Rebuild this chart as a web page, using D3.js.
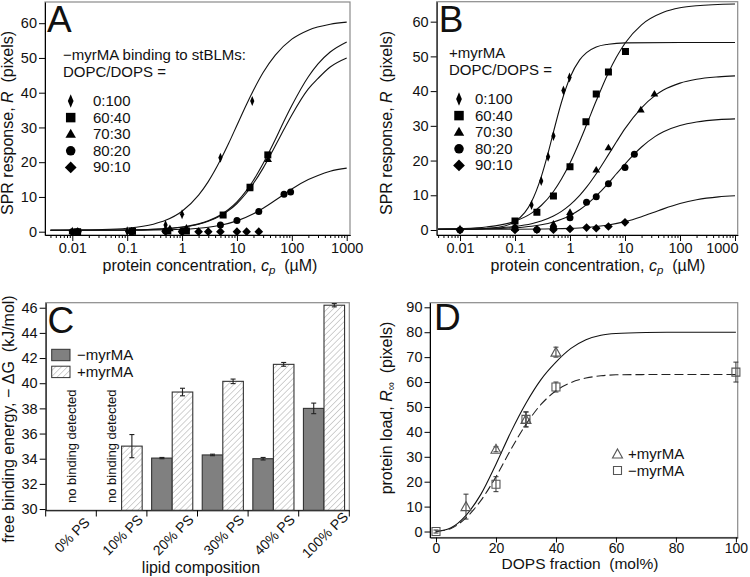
<!DOCTYPE html>
<html><head><meta charset="utf-8">
<script src="https://cdn.jsdelivr.net/npm/d3@7"></script>
<style>body{margin:0;background:#fff} svg{display:block} text{font-family:"Liberation Sans",Arial,Helvetica,sans-serif;fill:#111}</style>
</head><body><svg id="chart" width="750" height="577"></svg>
<script>
// ---------------- DATA ----------------
// Panel A (-myrMA), [concentration µM, response px]
const dataA_0_100 = [[0.01,0],[0.1,0.1],[0.5,1.9],[1,5.0],[5,21.3],[19,37.6]];
const dataA_60_40 = [[0.0125,0],[0.125,0.1],[0.55,0.2],[1.2,0.2],[5.6,4.8],[17.3,12.8],[36.5,22.1]];
const dataA_70_30 = [[0.01,0],[0.12,0.2],[0.6,0.9],[1.2,1.1],[17,12.4],[37,20.8]];
const dataA_80_20 = [[0.01,0],[0.12,0],[0.5,0.2],[1,0.1],[5,1.9],[10,3.2],[25,5.8],[72,10.8],[95,11.4]];
const dataA_90_10 = [[0.0125,0],[0.12,0],[0.5,0.1],[1,0],[2,0],[3,0],[5,0],[10,0],[15,0],[25,0]];
// fitted curves
const fitA_0_100 = [[0.004,0.42],[0.01,0.46],[0.03,0.58],[0.1,1.0],[0.3,2.16],[0.5,3.28],[1,5.9],[2,10.5],[3,14.4],[5,20.6],[7,25.3],[10,30.65],[15,36.7],[20,40.7],[30,45.8],[50,50.8],[100,55.4],[200,58.0],[500,59.7],[1000,60.3]];
const fitA_60_40 = [[0.004,0.4],[0.1,0.5],[0.3,0.69],[1,1.34],[2,2.26],[3,3.14],[5,4.82],[7,6.4],[10,8.6],[15,11.9],[20,14.8],[30,19.6],[50,26.5],[70,31.4],[100,36.3],[200,44.6],[300,48.3],[500,51.7],[1000,54.6]];
const fitA_70_30 = [[0.004,0.4],[0.1,0.49],[0.3,0.67],[1,1.29],[2,2.15],[3,2.98],[5,4.57],[7,6.05],[10,8.12],[15,11.2],[20,13.9],[30,18.3],[50,24.7],[70,29.1],[100,33.6],[200,41.1],[300,44.1],[500,47.4],[1000,50.0]];
const fitA_80_20 = [[0.004,0.4],[0.1,0.43],[1,0.71],[2,1.01],[3,1.3],[5,1.86],[10,3.11],[20,5.15],[30,6.73],[50,9.04],[70,10.63],[100,12.3],[200,15.0],[300,16.2],[500,17.4],[1000,18.3]];

// Panel B (+myrMA)
const dataB_0_100 = [[0.01,0.1],[0.1,1.0],[0.2,7.2],[0.3,14.1],[0.4,21.1],[0.5,27.1],[0.76,40.2],[0.98,43.9]];
const dataB_60_40 = [[0.1,2.6],[0.25,5.1],[0.5,9.8],[1,18.2],[1.95,31.2],[3,39.2],[5,45.5],[10.2,51.4]];
const dataB_70_30 = [[0.1,0.5],[0.5,1.7],[1,5.1],[3,17.3],[5,23.7],[19.4,34.6],[34.3,39.2]];
const dataB_80_20 = [[0.01,0],[0.1,0.6],[0.25,0.1],[0.5,0.6],[1,3.5],[2,8.0],[3,9.6],[5,13.3],[10,18.0],[14.8,21.8]];
const dataB_90_10 = [[0.01,0],[0.1,0],[0.25,0.1],[0.5,0.1],[1,0.3],[2,0.7],[3,0.5],[5,1.0],[10,2.2]];
const fitB_0_100 = [[0.004,0.2],[0.01,0.22],[0.02,0.29],[0.05,0.78],[0.1,2.44],[0.15,4.99],[0.2,8.16],[0.3,15.3],[0.4,22.2],[0.5,28.2],[0.7,36.8],[1,43.9],[1.5,49.0],[2,51.1],[3,52.7],[5,53.5],[10,53.9],[100,54.0],[1000,54.0]];
const fitB_60_40 = [[0.004,0.28],[0.01,0.41],[0.03,0.88],[0.1,2.53],[0.2,4.85],[0.3,7.05],[0.5,11.1],[0.7,14.7],[1,19.3],[1.5,25.5],[2,30.3],[3,37.2],[5,45.3],[7,49.8],[10,53.8],[20,59.1],[50,62.7],[100,64.0],[200,64.6],[1000,65.1]];
const fitB_70_30 = [[0.004,0.23],[0.01,0.28],[0.03,0.45],[0.1,1.02],[0.2,1.81],[0.3,2.57],[0.5,4.02],[0.7,5.37],[1,7.23],[1.5,9.97],[2,12.33],[3,16.2],[5,21.7],[7,25.4],[10,29.2],[20,35.2],[35,38.7],[50,40.3],[100,42.3],[200,43.4],[500,44.1],[1000,44.4]];
const fitB_80_20 = [[0.004,0.22],[0.01,0.25],[0.03,0.34],[0.1,0.65],[0.2,1.09],[0.3,1.52],[0.5,2.33],[0.7,3.11],[1,4.2],[1.5,5.85],[2,7.31],[3,9.8],[5,13.5],[7,16.2],[10,19.0],[15,22.0],[20,23.9],[35,26.9],[50,28.3],[100,30.1],[200,31.1],[500,31.8],[1000,32.0]];
const fitB_90_10 = [[0.004,0.2],[0.1,0.23],[0.5,0.34],[1,0.48],[2,0.74],[3,0.99],[5,1.45],[10,2.42],[20,3.84],[35,5.2],[50,6.08],[100,7.61],[200,8.71],[500,9.55],[1000,9.86]];

const ratioLabels = ["0:100","60:40","70:30","80:20","90:10"];
const ratioMarkers = ["thin","square","triangle","circle","diamond"];
const logMajorTicks = [0.01,0.1,1,10,100,1000];
const logMajorLabels = ["0.01","0.1","1","10","100","1000"];
const ticksAB_y = [0,10,20,30,40,50,60];

// Panel C
const lipidCats = ["0% PS","10% PS","20% PS","30% PS","40% PS","100% PS"];
const dGminus    = [null,null,34.05,34.3,34.0,38.0];
const dGminusErr = [null,null,0.05,0.06,0.1,0.42];
const dGplus     = [null,35.0,39.3,40.15,41.5,46.2];
const dGplusErr  = [null,0.92,0.3,0.18,0.15,0.13];
const ticksC_y = [30,32,34,36,38,40,42,44,46];

// Panel D
const dopsPlus = [10,20,30,40];
const loadPlus = [10,33,45,72];
const loadPlusErr = [5,1,3,2];
const dopsMinus = [0,20,30,40,100];
const loadMinus = [0,19,45,58,64];
const loadMinusErr = [0.6,3,3,2,4];
const fitD_plus  = [[0,0],[5,1.5],[10,6.5],[15,15],[20,27],[25,40],[30,51.5],[35,61],[40,68],[45,73.5],[50,77],[55,78.8],[60,79.5],[70,79.9],[80,80],[100,80]];
const fitD_minus = [[0,0],[5,1.2],[10,5.5],[15,12.5],[20,22],[25,33],[30,43],[35,51],[40,56.5],[45,59.8],[50,61.6],[55,62.5],[60,62.9],[70,63],[100,63]];
const ticksD_x = [0,20,40,60,80,100];
const ticksD_y = [0,10,20,30,40,50,60,70,80,90];

// ---------------- DRAWING ----------------
const svg = d3.select("#chart");
const FRAME = "#8a8a8a";
const TICKFS = 14.5, LEGFS = 15, TITLEFS = 15.5;

const defs = svg.append("defs");
const pat = defs.append("pattern").attr("id","hatch").attr("patternUnits","userSpaceOnUse")
  .attr("width",4.2).attr("height",4.2).attr("patternTransform","rotate(45)");
pat.append("rect").attr("width",4.2).attr("height",4.2).attr("fill","#fff");
pat.append("line").attr("x1",0).attr("y1",0).attr("x2",0).attr("y2",4.2).attr("stroke","#9a9a9a").attr("stroke-width",0.9);

function markerPath(type, s){
  switch(type){
    case "thin": return `M0,${-s*0.72}L${s*0.3},0L0,${s*0.72}L${-s*0.3},0Z`;
    case "square": return `M${-s/2},${-s/2}h${s}v${s}h${-s}Z`;
    case "triangle": { const h=s*0.95; return `M0,${-h*0.6}L${s*0.55},${h*0.4}L${-s*0.55},${h*0.4}Z`; }
    case "circle": { const r=s*0.5; return `M${r},0A${r},${r},0,1,1,${-r},0A${r},${r},0,1,1,${r},0Z`; }
    case "diamond": return `M0,${-s*0.62}L${s*0.62},0L0,${s*0.62}L${-s*0.62},0Z`;
  }
}

function styleAxis(g, fs){
  g.select(".domain").attr("stroke","#000").attr("stroke-width",1);
  g.selectAll(".tick line").attr("stroke","#000").attr("stroke-width",1);
  g.selectAll(".tick text").attr("font-size",fs).attr("fill","#111")
    .attr("font-family","'Liberation Sans',Arial,sans-serif");
}

function frame(x0,y0,x1,y1){
  svg.append("rect").attr("x",x0).attr("y",y0).attr("width",x1-x0).attr("height",y1-y0)
    .attr("fill","none").attr("stroke",FRAME).attr("stroke-width",1.2);
}

function panelLetter(t,x,y){
  svg.append("text").attr("x",x).attr("y",y).attr("font-size",37).text(t);
}

function logPanel(opt){
  const x = d3.scaleLog().domain(opt.xdom).range(opt.xr);
  const y = d3.scaleLinear().domain(opt.ydom).range(opt.yr);
  frame(opt.xr[0],opt.yr[1],opt.xr[1],opt.yr[0]);
  const minor = [];
  for (let e=-3;e<=2;e++) for (let k=2;k<=9;k++){ const v=k*Math.pow(10,e); if(v>=opt.xdom[0]&&v<=opt.xdom[1]) minor.push(v); }
  const gm = svg.append("g").attr("transform",`translate(0,${opt.yr[0]})`)
    .call(d3.axisBottom(x).tickValues(minor).tickSize(3).tickFormat("").tickSizeOuter(0));
  styleAxis(gm,13);
  const gx = svg.append("g").attr("transform",`translate(0,${opt.yr[0]})`)
    .call(d3.axisBottom(x).tickValues(logMajorTicks).tickSize(6).tickPadding(2).tickSizeOuter(0)
      .tickFormat((d,i)=>logMajorLabels[i]));
  styleAxis(gx,TICKFS);
  if (opt.lastEnd) {
    gx.selectAll(".tick text").filter(d=>d===1000).attr("text-anchor","end").attr("dx",3);
  }
  const gy = svg.append("g").attr("transform",`translate(${opt.xr[0]},0)`)
    .call(d3.axisLeft(y).tickValues(ticksAB_y).tickSize(6).tickPadding(2).tickSizeOuter(0));
  styleAxis(gy,TICKFS);

  const line = d3.line().x(d=>x(d[0])).y(d=>y(d[1])).curve(d3.curveMonotoneX);
  const clipId = "clip"+opt.letter;
  defs.append("clipPath").attr("id",clipId).append("rect")
    .attr("x",opt.xr[0]).attr("y",opt.yr[1]).attr("width",opt.xr[1]-opt.xr[0]).attr("height",opt.yr[0]-opt.yr[1]);
  const gc = svg.append("g").attr("clip-path",`url(#${clipId})`);
  opt.fits.forEach(f=>{
    gc.append("path").attr("d",line(f)).attr("fill","none").attr("stroke","#111").attr("stroke-width",1.1);
  });
  opt.data.forEach((ser,i)=>{
    gc.selectAll(null).data(ser).enter().append("path")
      .attr("transform",d=>`translate(${x(d[0])},${y(d[1])})`)
      .attr("d",markerPath(ratioMarkers[i],7)).attr("fill","#000");
  });
  const L = opt.legend;
  svg.append("text").attr("x",L.x).attr("y",L.y).attr("font-size",LEGFS).text(L.title1);
  svg.append("text").attr("x",L.x).attr("y",L.y+16.5).attr("font-size",LEGFS).text("DOPC/DOPS =");
  ratioLabels.forEach((lab,i)=>{
    const yy = L.y+41+i*16.6;
    svg.append("path").attr("transform",`translate(${L.mx},${yy})`).attr("d",markerPath(ratioMarkers[i],9.5)).attr("fill","#000");
    svg.append("text").attr("x",L.tx).attr("y",yy+5).attr("font-size",LEGFS).text(lab);
  });
  const yl = svg.append("text").attr("transform",`translate(${opt.ylx},${opt.yly}) rotate(-90)`)
    .attr("text-anchor","middle").attr("font-size",TITLEFS+0.5);
  yl.append("tspan").text("SPR response, ");
  yl.append("tspan").attr("font-style","italic").text("R");
  yl.append("tspan").text("\u00a0\u00a0(pixels)");
  const xl = svg.append("text").attr("x",opt.xlx).attr("y",opt.xly).attr("text-anchor","middle").attr("font-size",TITLEFS+0.5);
  xl.append("tspan").text("protein concentration, ");
  xl.append("tspan").attr("font-style","italic").text("c");
  xl.append("tspan").attr("font-style","italic").attr("font-size",11.5).attr("dy",3).text("p");
  xl.append("tspan").attr("dy",-3).text("\u00a0\u00a0(\u00b5M)");
  panelLetter(opt.letter, opt.xr[0]+2, opt.yr[1]+30);
}

logPanel({letter:"A", xdom:[0.00318,1148], xr:[45,350], ydom:[-0.95,66.1], yr:[235,2],
  fits:[fitA_0_100,fitA_60_40,fitA_70_30,fitA_80_20],
  data:[dataA_0_100,dataA_60_40,dataA_70_30,dataA_80_20,dataA_90_10],
  legend:{x:63,y:60,mx:70.7,tx:93,title1:"\u2212myrMA binding to stBLMs:"},
  ylx:13, yly:123, xlx:210, xly:271, lastEnd:false});

logPanel({letter:"B", xdom:[0.00377,1120], xr:[436.7,737.7], ydom:[-1.44,65.75], yr:[235,1.7],
  fits:[fitB_0_100,fitB_60_40,fitB_70_30,fitB_80_20,fitB_90_10],
  data:[dataB_0_100,dataB_60_40,dataB_70_30,dataB_80_20,dataB_90_10],
  legend:{x:449,y:58,mx:459,tx:475,title1:"+myrMA"},
  ylx:392, yly:123, xlx:598, xly:271, lastEnd:true});

// ---------- Panel C ----------
(function(){
  const x = d3.scaleBand().domain(lipidCats).range([45.7,349.3]).paddingInner(0).paddingOuter(0);
  const xs = d3.scaleBand().domain(["minus","plus"]).range([0,x.bandwidth()]).paddingInner(0).paddingOuter(0.23);
  const y = d3.scaleLinear().domain([29.9,46.4]).range([510.3,302.7]);
  frame(45.7,302.7,349.3,510.3);
  const gx = svg.append("g").attr("transform","translate(0,510.3)")
    .call(d3.axisBottom(x).tickValues([]).tickSizeOuter(0));
  styleAxis(gx,13);
  const bounds = lipidCats.map(c=>x(c)).concat([x.range()[1]]);
  svg.selectAll(null).data(bounds).enter().append("line")
    .attr("x1",d=>d).attr("x2",d=>d).attr("y1",510.3).attr("y2",516.5).attr("stroke","#000");
  const gy = svg.append("g").attr("transform","translate(45.7,0)")
    .call(d3.axisLeft(y).tickValues(ticksC_y).tickSize(6).tickPadding(2).tickSizeOuter(0));
  styleAxis(gy,TICKFS);
  const barsM = lipidCats.map((c,i)=>({c,v:dGminus[i],e:dGminusErr[i]})).filter(d=>d.v!==null);
  const barsP = lipidCats.map((c,i)=>({c,v:dGplus[i],e:dGplusErr[i]})).filter(d=>d.v!==null);
  svg.selectAll(null).data(barsM).enter().append("rect")
    .attr("x",d=>x(d.c)+xs("minus")).attr("width",xs.bandwidth())
    .attr("y",d=>y(d.v)).attr("height",d=>y(29.9)-y(d.v))
    .attr("fill","#808080").attr("stroke","#333").attr("stroke-width",1.1);
  svg.selectAll(null).data(barsP).enter().append("rect")
    .attr("x",d=>x(d.c)+xs("plus")).attr("width",xs.bandwidth())
    .attr("y",d=>y(d.v)).attr("height",d=>y(29.9)-y(d.v))
    .attr("fill","url(#hatch)").attr("stroke","#333").attr("stroke-width",1.1);
  function err(arr,key){
    arr.forEach(d=>{
      const cx = x(d.c)+xs(key)+xs.bandwidth()/2;
      const g = svg.append("g").attr("stroke","#222").attr("stroke-width",1.1);
      g.append("line").attr("x1",cx).attr("x2",cx).attr("y1",y(d.v-d.e)).attr("y2",y(d.v+d.e));
      g.append("line").attr("x1",cx-2.5).attr("x2",cx+2.5).attr("y1",y(d.v-d.e)).attr("y2",y(d.v-d.e));
      g.append("line").attr("x1",cx-2.5).attr("x2",cx+2.5).attr("y1",y(d.v+d.e)).attr("y2",y(d.v+d.e));
    });
  }
  err(barsM,"minus"); err(barsP,"plus");
  [[lipidCats[0], x.bandwidth()/2],[lipidCats[1], xs("minus")+xs.bandwidth()/2]].forEach(([c,off])=>{
    svg.append("text").attr("transform",`translate(${x(c)+off+5},503) rotate(-90)`)
      .attr("font-size",13).text("no binding detected");
  });
  lipidCats.forEach(c=>{
    svg.append("text").attr("transform",`translate(${x(c)+x.bandwidth()/2+1},535) rotate(-45)`)
      .attr("text-anchor","middle").attr("dy","0.35em").attr("font-size",14).text(c);
  });
  svg.append("rect").attr("x",51.7).attr("y",349.3).attr("width",18.3).attr("height",11.4)
    .attr("fill","#808080").attr("stroke","#333");
  svg.append("rect").attr("x",51.7).attr("y",366.2).attr("width",18.3).attr("height",11.4)
    .attr("fill","url(#hatch)").attr("stroke","#333");
  svg.append("text").attr("x",77).attr("y",360).attr("font-size",LEGFS).text("\u2212myrMA");
  svg.append("text").attr("x",77).attr("y",377).attr("font-size",LEGFS).text("+myrMA");
  svg.append("text").attr("transform","translate(14,419) rotate(-90)").attr("text-anchor","middle")
    .attr("font-size",16).text("free binding energy, \u2212 \u0394G\u00a0\u00a0(kJ/mol)");
  svg.append("text").attr("x",201).attr("y",573).attr("text-anchor","middle").attr("font-size",16).text("lipid composition");
  panelLetter("C",47.5,332.5);
})();

// ---------- Panel D ----------
(function(){
  const x = d3.scaleLinear().domain([-2,100.6]).range([430,737.7]);
  const y = d3.scaleLinear().domain([-2.4,91.85]).range([537.5,302.7]);
  frame(430,302.7,737.7,537.5);
  const gx = svg.append("g").attr("transform","translate(0,537.5)")
    .call(d3.axisBottom(x).tickValues(ticksD_x).tickSize(5).tickPadding(0.5).tickSizeOuter(0));
  styleAxis(gx,14);
  const gy = svg.append("g").attr("transform","translate(430,0)")
    .call(d3.axisLeft(y).tickValues(ticksD_y).tickSize(5.5).tickPadding(2).tickSizeOuter(0));
  styleAxis(gy,TICKFS);
  const line = d3.line().x(d=>x(d[0])).y(d=>y(d[1])).curve(d3.curveMonotoneX);
  svg.append("path").attr("d",line(fitD_plus)).attr("fill","none").attr("stroke","#111").attr("stroke-width",1.1);
  svg.append("path").attr("d",line(fitD_minus)).attr("fill","none").attr("stroke","#222").attr("stroke-width",1.1)
    .attr("stroke-dasharray","9,4");
  function errs(xs,ys,es){
    xs.forEach((xv,i)=>{
      const cx=x(xv), g=svg.append("g").attr("stroke","#333").attr("stroke-width",1);
      g.append("line").attr("x1",cx).attr("x2",cx).attr("y1",y(ys[i]-es[i])).attr("y2",y(ys[i]+es[i]));
      [ys[i]-es[i],ys[i]+es[i]].forEach(v=>g.append("line").attr("x1",cx-2.5).attr("x2",cx+2.5).attr("y1",y(v)).attr("y2",y(v)));
    });
  }
  errs(dopsPlus,loadPlus,loadPlusErr);
  errs(dopsMinus,loadMinus,loadMinusErr);
  const tri = `M0,-5L5,4L-5,4Z`, sq = `M-4,-4h8v8h-8Z`;
  svg.selectAll(null).data(dopsPlus).enter().append("path")
    .attr("transform",(d,i)=>`translate(${x(d)},${y(loadPlus[i])})`).attr("d",tri)
    .attr("fill","none").attr("stroke","#555").attr("stroke-width",1.1);
  svg.selectAll(null).data(dopsMinus).enter().append("path")
    .attr("transform",(d,i)=>`translate(${x(d)},${y(loadMinus[i])})`).attr("d",sq)
    .attr("fill","none").attr("stroke","#555").attr("stroke-width",1.1);
  svg.append("path").attr("transform","translate(617.5,454)").attr("d",tri).attr("fill","none").attr("stroke","#555").attr("stroke-width",1.1);
  svg.append("path").attr("transform","translate(617.5,470.5)").attr("d",sq).attr("fill","none").attr("stroke","#555").attr("stroke-width",1.1);
  svg.append("text").attr("x",628).attr("y",459).attr("font-size",LEGFS).text("+myrMA");
  svg.append("text").attr("x",628).attr("y",475.5).attr("font-size",LEGFS).text("\u2212myrMA");
  const yl = svg.append("text").attr("transform","translate(392,408) rotate(-90)").attr("text-anchor","middle").attr("font-size",16);
  yl.append("tspan").text("protein load, ");
  yl.append("tspan").attr("font-style","italic").text("R");
  yl.append("tspan").attr("font-size",11.5).attr("dy",3).text("\u221e");
  yl.append("tspan").attr("dy",-3).text("\u00a0\u00a0(pixels)");
  svg.append("text").attr("x",580).attr("y",569).attr("text-anchor","middle").attr("font-size",15.5).text("DOPS fraction\u00a0\u00a0(mol%)");
  panelLetter("D",434,330);
})();
</script></body></html>
